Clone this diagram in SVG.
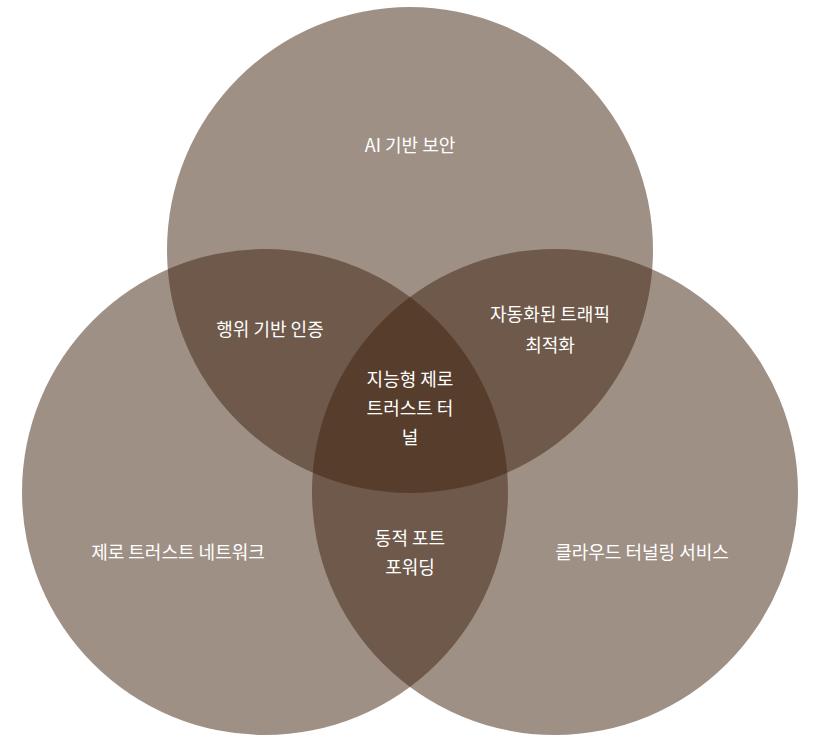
<svg xmlns="http://www.w3.org/2000/svg" width="819" height="747" viewBox="0 0 819 747">
<style>
.c{fill:rgb(63,33,13);fill-opacity:0.5}
text{fill:#fff;font-family:"Noto Sans CJK KR","Noto Sans",sans-serif;font-size:18px;text-anchor:middle;dominant-baseline:central}
</style>
<rect width="819" height="747" fill="#fff"/>
<g id="top"><circle class="c" cx="410" cy="250" r="243"/></g>
<g id="left"><circle class="c" cx="265" cy="492" r="243"/></g>
<g id="right"><circle class="c" cx="555" cy="492" r="243"/></g>
<g id="labels">
<text x="410" y="144">AI 기반 보안</text>
<text x="270" y="328">행위 기반 인증</text>
<text x="550" y="313">자동화된 트래픽</text>
<text x="550" y="344">최적화</text>
<text x="410" y="378">지능형 제로</text>
<text x="410" y="407">트러스트 터</text>
<text x="410" y="436">널</text>
<text x="178" y="551">제로 트러스트 네트워크</text>
<text x="410" y="537">동적 포트</text>
<text x="410" y="566">포워딩</text>
<text x="642" y="551">클라우드 터널링 서비스</text>
</g>
</svg>
